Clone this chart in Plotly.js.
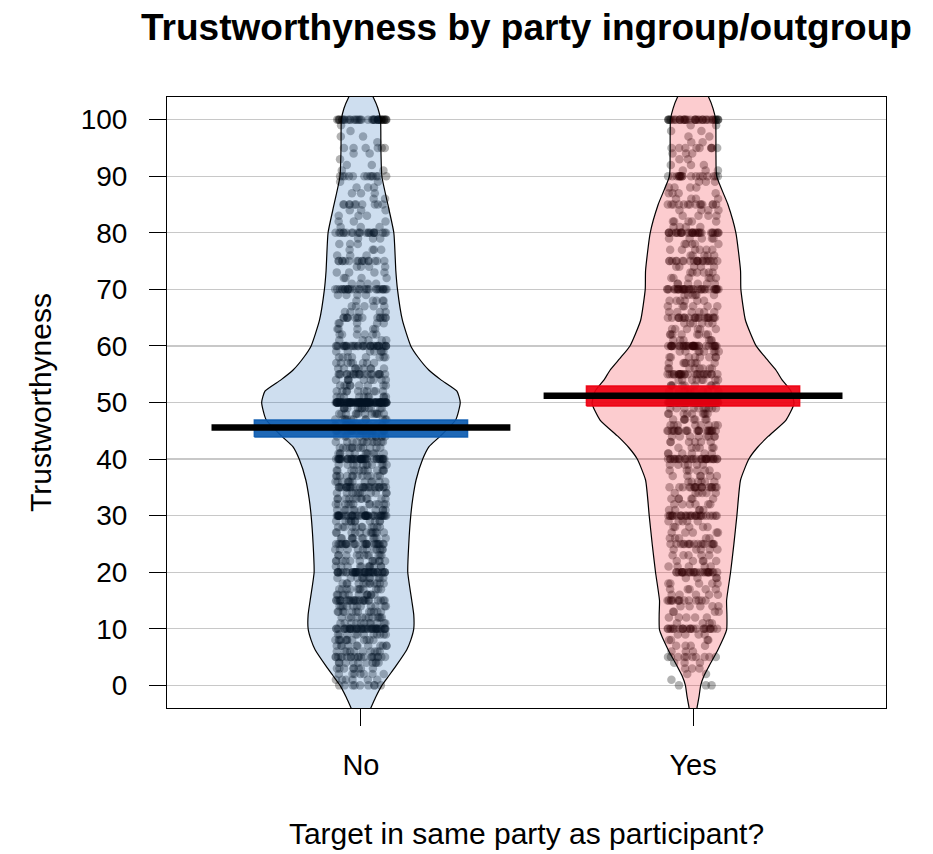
<!DOCTYPE html>
<html>
<head>
<meta charset="utf-8">
<script src="https://cdn.plot.ly/plotly-3.0.1.min.js"></script>
<style>html,body{margin:0;padding:0;background:#fff;}#chart{width:933px;height:854px;}</style>
</head>
<body>
<div id="chart"></div>
<script>
// ---- data ----
const groups = ['No', 'Yes'];
const groupPos = [1, 2];
const yTicks = [0, 10, 20, 30, 40, 50, 60, 70, 80, 90, 100];

// response scale values
const scoreValues = [
  0,1,2,3,4,5,6,7,8,9,10,11,12,13,14,15,16,17,18,19,20,21,22,23,24,25,26,27,28,29,
  30,31,32,33,34,35,36,37,38,39,40,41,42,43,44,45,46,47,48,49,50,51,52,53,54,55,56,57,58,59,
  60,61,62,63,64,65,66,67,68,69,70,71,72,73,74,75,76,77,78,79,80,81,82,83,84,85,86,87,88,89,
  90,91,92,93,94,95,96,97,98,99,100];

// number of responses at each score (estimated)
const noCounts = [
  9,6,7,8,10,20,10,11,12,11,
  40,11,12,12,11,26,12,11,12,11,
  40,11,12,11,11,26,11,12,11,11,
  42,11,12,12,11,28,12,12,12,11,
  44,11,12,12,12,30,12,12,13,13,
  95,10,10,9,9,21,9,8,8,7,
  34,5,6,5,5,15,5,5,5,4,
  28,4,4,4,4,16,3,4,3,3,
  22,3,3,3,3,10,2,3,3,2,
  13,2,2,1,2,6,1,2,1,1,
  38];
const yesCounts = [
  3,1,2,3,3,10,3,4,4,4,
  24,4,5,4,5,14,5,5,5,4,
  26,5,5,5,5,17,5,5,5,5,
  28,5,6,6,6,18,6,6,6,6,
  31,6,6,6,8,23,8,8,9,10,
  85,9,9,9,8,26,8,8,8,8,
  36,6,8,6,6,22,6,6,6,6,
  34,6,6,6,5,21,5,6,5,5,
  31,4,5,4,4,14,4,4,4,3,
  18,3,3,2,3,9,2,2,2,2,
  38];

// group means and inference band limits
const means = [45.6, 51.2];
const infLow = [43.9, 49.4];
const infHigh = [46.9, 52.9];

// bean (density) outlines: half-width (in category units) at each level
const noBeanY  = [-5,-3.94,-2,0,1.7,3.4,6.3,8,10,12.5,15,20,25,30,33,36.3,40,42.2,44,47,50,52,54,55.7,58,60,64.5,70,73.3,80,85,90,95,100,102,103.94,105];
const noBeanW  = [0.021,0.030,0.045,0.063,0.084,0.105,0.138,0.150,0.159,0.159,0.153,0.141,0.144,0.150,0.156,0.166,0.186,0.205,0.238,0.286,0.299,0.289,0.241,0.205,0.172,0.150,0.125,0.110,0.105,0.099,0.081,0.063,0.060,0.059,0.051,0.037,0.027];
const yesBeanY = [-5,-3.94,-2,0,1.7,3.4,6.3,9.8,12.5,15,20,25,30,36.3,40,42,44,46.9,49.8,52,54,55.7,58,60,64.5,70,73.3,80,85,90,93.7,100,102,103.94,105];
const yesBeanW = [0.009,0.012,0.018,0.023,0.033,0.048,0.075,0.101,0.102,0.101,0.113,0.123,0.132,0.143,0.168,0.193,0.226,0.280,0.304,0.295,0.268,0.250,0.217,0.190,0.158,0.144,0.143,0.129,0.105,0.071,0.069,0.068,0.060,0.047,0.036];

// ---- styling ----
const FONT = 'Liberation Sans, Arial, Helvetica, sans-serif';
const beanFill = ['rgba(12,91,176,0.2)', 'rgba(238,0,17,0.2)'];
const bandFill = ['rgba(12,91,176,0.92)', 'rgba(238,0,17,0.92)'];
const bandHalf = 0.321;
const lineHalf = 0.45;

function expand(counts) {
  const out = [];
  for (let i = 0; i < scoreValues.length; i++) {
    for (let k = 0; k < counts[i]; k++) out.push(scoreValues[i]);
  }
  return out;
}

function beanTrace(pos, ys, ws, fill) {
  const x = [], y = [];
  for (let i = 0; i < ys.length; i++) { x.push(pos + ws[i]); y.push(ys[i]); }
  for (let i = ys.length - 1; i >= 0; i--) { x.push(pos - ws[i]); y.push(ys[i]); }
  x.push(x[0]); y.push(y[0]);
  return {type: 'scatter', mode: 'lines', x: x, y: y, fill: 'toself', fillcolor: fill,
    line: {color: '#000', width: 1.2, shape: 'spline', smoothing: 0.5}, hoverinfo: 'skip', showlegend: false};
}

const counts = [noCounts, yesCounts];
const beans = [[noBeanY, noBeanW], [yesBeanY, yesBeanW]];
const traces = [];

// points (library jitter)
for (let g = 0; g < groups.length; g++) {
  traces.push({type: 'box', x0: groupPos[g], y: expand(counts[g]), name: groups[g],
    boxpoints: 'all', jitter: 1, pointpos: 0, width: 0.155,
    marker: {color: 'rgba(0,0,0,0.3)', size: 8.5, line: {width: 0}},
    line: {width: 0, color: 'rgba(0,0,0,0)'}, fillcolor: 'rgba(0,0,0,0)', whiskerwidth: 0,
    hoverinfo: 'skip', showlegend: false});
}
// beans
for (let g = 0; g < groups.length; g++) {
  traces.push(beanTrace(groupPos[g], beans[g][0], beans[g][1], beanFill[g]));
}
// inference bands
for (let g = 0; g < groups.length; g++) {
  const p = groupPos[g];
  traces.push({type: 'scatter', mode: 'lines',
    x: [p - bandHalf, p + bandHalf, p + bandHalf, p - bandHalf, p - bandHalf],
    y: [infLow[g], infLow[g], infHigh[g], infHigh[g], infLow[g]],
    fill: 'toself', fillcolor: bandFill[g], line: {color: bandFill[g], width: 1.5},
    hoverinfo: 'skip', showlegend: false});
}
// average lines
for (let g = 0; g < groups.length; g++) {
  const p = groupPos[g];
  traces.push({type: 'scatter', mode: 'lines', x: [p - lineHalf, p + lineHalf], y: [means[g], means[g]],
    line: {color: '#000', width: 6.5}, hoverinfo: 'skip', showlegend: false});
}

const layout = {
  width: 933, height: 854,
  margin: {l: 167, r: 47, t: 97, b: 146, pad: 0},
  paper_bgcolor: '#fff', plot_bgcolor: '#fff',
  font: {family: FONT, color: '#000'},
  showlegend: false,
  boxmode: 'overlay',
  title: {text: '<b>Trustworthyness by party ingroup/outgroup</b>', font: {family: FONT, size: 37, color: '#000'},
    x: 0.5, xref: 'paper', xanchor: 'center', y: 1 - 27 / 854, yref: 'container', yanchor: 'middle'},
  xaxis: {type: 'linear', range: [0.416, 2.581], tickmode: 'array', tickvals: groupPos, ticktext: groups,
    ticks: 'outside', ticklen: 17, tickwidth: 1, tickcolor: '#000',
    showline: true, mirror: true, linecolor: '#000', linewidth: 1,
    showgrid: false, zeroline: false, tickfont: {family: FONT, size: 29, color: '#000'},
    ticklabelstandoff: 14,
    title: {text: 'Target in same party as participant?', font: {family: FONT, size: 30, color: '#000'}, standoff: 43}},
  yaxis: {range: [-4, 104], tickmode: 'array', tickvals: yTicks,
    ticks: 'outside', ticklen: 17, tickwidth: 1, tickcolor: '#000',
    showline: true, mirror: true, linecolor: '#000', linewidth: 1,
    showgrid: true, gridcolor: '#c8c8c8', gridwidth: 1.2, zeroline: false,
    tickfont: {family: FONT, size: 28, color: '#000'}, ticklabelstandoff: 16,
    title: {text: 'Trustworthyness', font: {family: FONT, size: 30, color: '#000'}, standoff: 20}}
};

Plotly.newPlot('chart', traces, layout, {displayModeBar: false, staticPlot: true});
</script>
</body>
</html>
